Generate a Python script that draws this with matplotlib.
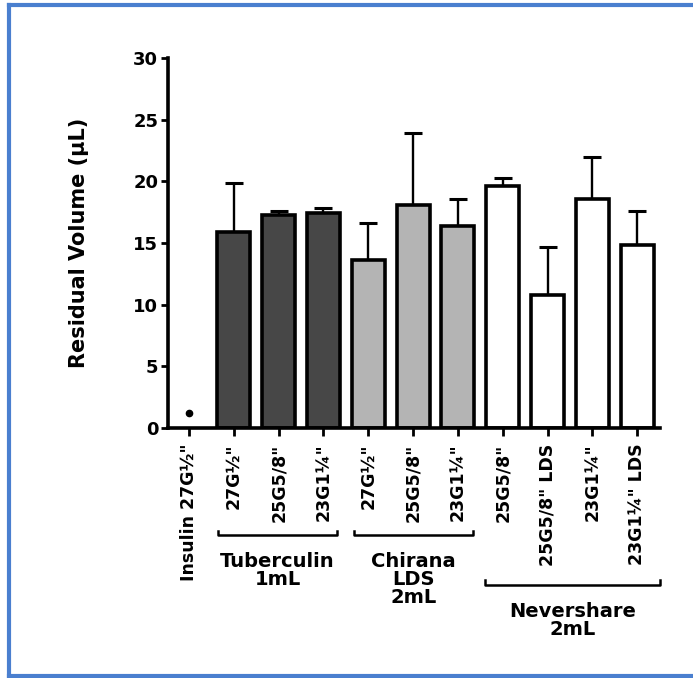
import matplotlib.pyplot as plt
from matplotlib.lines import Line2D

plt.rcParams['font.family'] = ['DejaVu Sans']
plt.rcParams['font.weight'] = 'bold'

# data
labels = ['Insulin 27G\u00bd"', '27G\u00bd"', '25G5/8"', '23G1\u00bc"',
          '27G\u00bd"', '25G5/8"', '23G1\u00bc"',
          '25G5/8"', '25G5/8" LDS', '23G1\u00bc"', '23G1\u00bc" LDS']
insulin_value = 1.2
means = [None, 15.9, 17.3, 17.4, 13.6, 18.1, 16.4, 19.6, 10.8, 18.6, 14.8]
upper = [None, 19.9, 17.6, 17.8, 16.6, 23.9, 18.6, 20.3, 14.7, 22.0, 17.6]
colors = [None, '#474747', '#474747', '#474747',
          '#b4b4b4', '#b4b4b4', '#b4b4b4',
          'white', 'white', 'white', 'white']
groups = ['Tuberculin\n1mL', 'Chirana\nLDS\n2mL', 'Nevershare\n2mL']

fig = plt.figure(figsize=(6.93, 6.78), dpi=100)
ax = fig.add_axes([0.2424, 0.3687, 0.71, 0.5457])

x = list(range(len(labels)))
for i in x[1:]:
    ax.bar(i, means[i], width=0.74, color=colors[i], edgecolor='black',
           linewidth=2.6, zorder=2)
    ax.errorbar(i, means[i], yerr=[[0], [upper[i] - means[i]]], fmt='none',
                ecolor='black', elinewidth=1.7, capsize=6.5, capthick=2.2,
                zorder=1)
ax.plot(0, insulin_value, 'o', color='black', markersize=4.5)

ax.set_xlim(-0.47, 10.51)
ax.set_ylim(0, 30)
ax.set_yticks(range(0, 31, 5))
ax.set_xticks(x)
ax.set_xticklabels(labels, rotation=90, fontsize=12.5, fontweight='bold')
ax.tick_params(axis='y', labelsize=13, width=2, length=5, pad=2)
ax.tick_params(axis='x', width=2, length=6, pad=5)
for s in ['top', 'right']:
    ax.spines[s].set_visible(False)
for s in ['left', 'bottom']:
    ax.spines[s].set_linewidth(2.6)
ax.set_ylabel('Residual Volume (\u00b5L)', fontsize=15, fontweight='bold',
              labelpad=32)

# group brackets under the tick labels
trans = ax.get_xaxis_transform()
brackets = [(0.65, 3.30, -0.289), (3.68, 6.34, -0.289), (6.61, 10.51, -0.424)]
for (x0, x1, yb), name in zip(brackets, groups):
    ax.add_line(Line2D([x0, x0, x1, x1], [yb + 0.012, yb, yb, yb + 0.012],
                       transform=trans, color='black', lw=1.8,
                       clip_on=False))
    ax.text((x0 + x1) / 2, yb - 0.045, name, transform=trans, ha='center',
            va='top', fontsize=14, fontweight='bold', linespacing=0.95)

# blue slide frame
frame = dict(color='#4a7fcf', lw=3, transform=fig.transFigure)
fig.add_artist(Line2D([0.013, 1.0], [0.993, 0.993], **frame))
fig.add_artist(Line2D([0.013, 0.013], [0.0, 0.993], **frame))
fig.add_artist(Line2D([0.013, 1.0], [0.003, 0.003], **frame))

fig.savefig('out.png', dpi=100)
